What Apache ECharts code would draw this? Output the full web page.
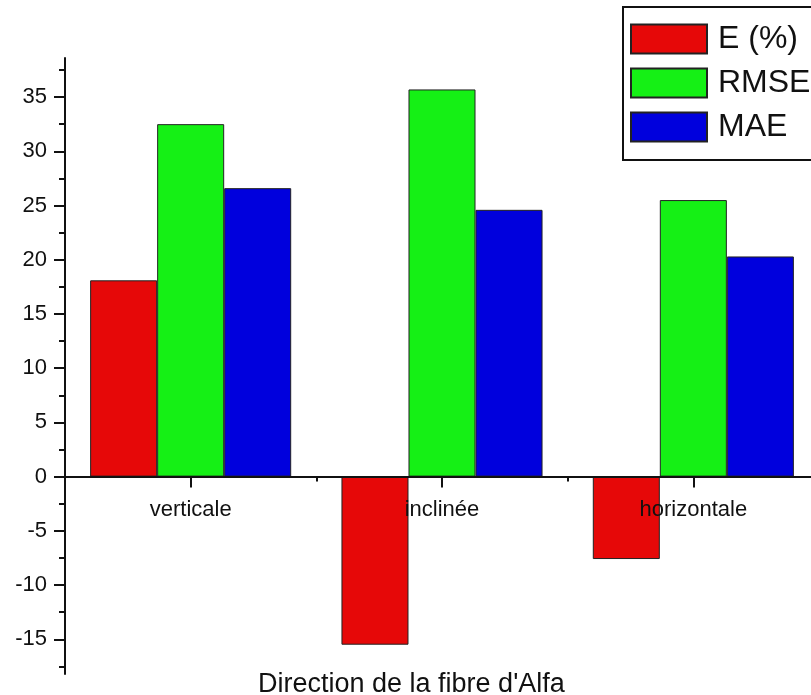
<!DOCTYPE html>
<html>
<head>
<meta charset="utf-8">
<script src="https://cdn.jsdelivr.net/npm/echarts@6/dist/echarts.min.js"></script>
<style>
html,body{margin:0;padding:0;background:#fff;}
#chart{width:811px;height:695px;}
</style>
</head>
<body>
<div id="chart"></div>
<script>
const categories = ['verticale', 'inclinée', 'horizontale'];
const seriesNames = ['E (%)', 'RMSE', 'MAE'];
const eValues = [18.1, -15.5, -7.6];
const rmseValues = [32.5, 35.7, 25.5];
const maeValues = [26.6, 24.6, 20.3];
const yTickLabels = [-15, -10, -5, 0, 5, 10, 15, 20, 25, 30, 35];
const xAxisTitle = "Direction de la fibre d'Alfa";

const colors = ['#e60808', '#15f015', '#0000dd'];
const FONT = '"Liberation Sans", Arial, sans-serif';
const Y_MIN = -18.2, Y_MAX = 38.6;
const W = 811, H = 695;
const G_TOP = 58, G_BOTTOM = 21, G_LEFT = 65, G_RIGHT = -8;

const chart = echarts.init(document.getElementById('chart'), null, {renderer: 'canvas'});

const barStyle = (c) => ({color: c, borderColor: '#222', borderWidth: 1});
// main plotting grid
const mainGrid = {left: G_LEFT, right: G_RIGHT, top: G_TOP, bottom: G_BOTTOM, containLabel: false, outerBoundsMode: 'none'};
// grid whose bottom edge sits on the zero line of the value axis (category axis crosses at 0)
const plotH = H - G_TOP - G_BOTTOM;
const zeroY = G_TOP + (Y_MAX - 0) / (Y_MAX - Y_MIN) * plotH;
const zeroGrid = {left: G_LEFT, right: G_RIGHT, top: G_TOP, bottom: H - zeroY, containLabel: false, outerBoundsMode: 'none'};

chart.setOption({
  animation: false,
  backgroundColor: '#fff',
  title: {
    text: xAxisTitle,
    left: 253,
    top: 666,
    textStyle: {fontFamily: FONT, fontSize: 27, fontWeight: 'normal', color: '#111'}
  },
  legend: {
    orient: 'vertical',
    left: 623,
    top: 7,
    padding: [16, 60, 17, 7],
    borderColor: '#111',
    borderWidth: 2,
    itemWidth: 76,
    itemHeight: 29,
    itemGap: 12,
    icon: 'rect',
    data: seriesNames,
    textStyle: {fontFamily: FONT, fontSize: 32, color: '#111', padding: [0, 0, 0, 6]}
  },
  grid: [mainGrid, Object.assign({}, zeroGrid), Object.assign({}, zeroGrid)],
  xAxis: [{
    type: 'category',
    gridIndex: 0,
    data: categories,
    show: false
  }, {
    type: 'category',
    gridIndex: 1,
    z: 10,
    data: categories,
    position: 'bottom',
    axisLine: {show: true, onZero: false, lineStyle: {color: '#111', width: 2}},
    axisTick: {show: true, inside: false, alignWithLabel: true, length: 11, lineStyle: {color: '#111', width: 2}},
    axisLabel: {show: true, fontFamily: FONT, fontSize: 22, color: '#111', margin: 22}
  }, {
    type: 'category',
    gridIndex: 2,
    z: 10,
    data: categories,
    position: 'bottom',
    axisLine: {show: false, onZero: false},
    axisTick: {show: true, inside: false, alignWithLabel: false, length: 5, lineStyle: {color: '#111', width: 2}},
    axisLabel: {show: false}
  }],
  yAxis: [{
    type: 'value',
    gridIndex: 0,
    z: 10,
    min: Y_MIN,
    max: Y_MAX,
    splitNumber: 12,
    splitLine: {show: false},
    axisLine: {show: true, onZero: false, lineStyle: {color: '#111', width: 2}},
    axisTick: {show: true, length: 11, customValues: yTickLabels, lineStyle: {color: '#111', width: 2}},
    minorTick: {show: true, splitNumber: 2, length: 6, lineStyle: {color: '#111', width: 2}},
    axisLabel: {fontFamily: FONT, fontSize: 22, color: '#111', margin: 18, customValues: yTickLabels}
  }, {
    type: 'value', gridIndex: 1, min: 0, max: Y_MAX, show: false
  }, {
    type: 'value', gridIndex: 2, min: 0, max: Y_MAX, show: false
  }],
  series: [
    {name: seriesNames[0], type: 'bar', data: eValues, itemStyle: barStyle(colors[0]), barGap: '0%', barCategoryGap: '20%'},
    {name: seriesNames[1], type: 'bar', data: rmseValues, itemStyle: barStyle(colors[1]), barGap: '0%', barCategoryGap: '20%'},
    {name: seriesNames[2], type: 'bar', data: maeValues, itemStyle: barStyle(colors[2]), barGap: '0%', barCategoryGap: '20%'}
  ]
});
</script>
</body>
</html>
